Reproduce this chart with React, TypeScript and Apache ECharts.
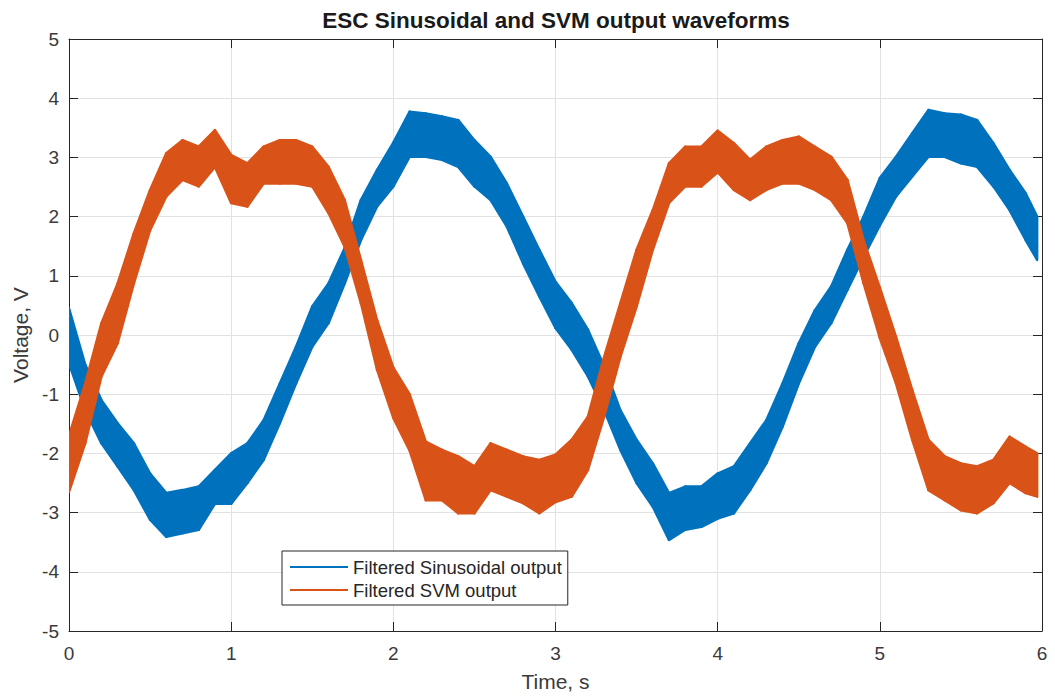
import React, { useEffect, useRef } from "react";
import * as echarts from "echarts";

const timeS = [0, 0.1, 0.2, 0.3, 0.4, 0.5, 0.6, 0.7, 0.8, 0.9, 1.0, 1.1, 1.2, 1.3, 1.4, 1.5, 1.6, 1.7, 1.8, 1.9, 2.0, 2.1, 2.2, 2.3, 2.4, 2.5, 2.6, 2.7, 2.8, 2.9, 3.0, 3.1, 3.2, 3.3, 3.4, 3.5, 3.6, 3.7, 3.8, 3.9, 4.0, 4.1, 4.2, 4.3, 4.4, 4.5, 4.6, 4.7, 4.8, 4.9, 5.0, 5.1, 5.2, 5.3, 5.4, 5.5, 5.6, 5.7, 5.8, 5.9, 5.97];

// Filtered Sinusoidal output: upper / lower envelope of the ripple band (V)
const sinUpper = [0.45, -0.5, -1.1, -1.49, -1.83, -2.34, -2.67, -2.62, -2.56, -2.28, -2.0, -1.83, -1.44, -0.82, -0.2, 0.48, 0.87, 1.47, 2.28, 2.79, 3.25, 3.77, 3.74, 3.69, 3.63, 3.29, 3.01, 2.56, 2.0, 1.44, 0.9, 0.54, 0.09, -0.53, -1.27, -1.77, -2.17, -2.67, -2.56, -2.56, -2.34, -2.22, -1.83, -1.44, -0.82, -0.14, 0.42, 0.82, 1.44, 2.0, 2.65, 3.01, 3.41, 3.8, 3.74, 3.72, 3.63, 3.24, 2.79, 2.39, 2.0];
const sinLower = [-0.48, -1.27, -1.83, -2.22, -2.62, -3.12, -3.41, -3.35, -3.29, -2.85, -2.85, -2.5, -2.11, -1.49, -0.82, -0.2, 0.2, 0.87, 1.6, 2.17, 2.51, 3.01, 3.01, 2.96, 2.84, 2.51, 2.28, 1.83, 1.21, 0.65, 0.12, -0.25, -0.7, -1.27, -1.94, -2.5, -2.9, -3.46, -3.29, -3.24, -3.1, -3.01, -2.62, -2.17, -1.55, -0.82, -0.2, 0.2, 0.76, 1.32, 1.85, 2.34, 2.68, 3.01, 3.01, 2.9, 2.84, 2.51, 2.11, 1.6, 1.27];

// Filtered SVM output: upper / lower envelope of the ripple band (V)
const svmUpper = [-1.7, -0.82, 0.2, 0.87, 1.72, 2.45, 3.07, 3.29, 3.18, 3.46, 3.04, 2.9, 3.18, 3.29, 3.29, 3.18, 2.84, 2.28, 1.27, 0.25, -0.55, -1.0, -1.8, -1.94, -2.05, -2.22, -1.83, -1.94, -2.05, -2.11, -2.02, -1.77, -1.38, -0.37, 0.54, 1.44, 2.11, 2.9, 3.18, 3.18, 3.45, 3.24, 2.96, 3.18, 3.29, 3.35, 3.18, 3.01, 2.62, 1.6, 0.8, -0.03, -0.93, -1.77, -2.05, -2.17, -2.22, -2.11, -1.72, -1.89, -2.0];
const svmLower = [-2.65, -1.83, -0.7, -0.14, 0.87, 1.77, 2.34, 2.62, 2.51, 2.84, 2.23, 2.17, 2.56, 2.56, 2.56, 2.51, 2.06, 1.49, 0.54, -0.59, -1.4, -1.95, -2.79, -2.79, -3.01, -3.01, -2.62, -2.73, -2.84, -3.01, -2.82, -2.73, -2.28, -1.38, -0.37, 0.48, 1.44, 2.23, 2.51, 2.51, 2.75, 2.45, 2.28, 2.45, 2.56, 2.56, 2.45, 2.28, 1.89, 0.87, -0.05, -0.82, -1.77, -2.62, -2.79, -2.96, -3.01, -2.84, -2.5, -2.67, -2.73];

const xTicks = { min: 0, max: 6, interval: 1 };
const yTicks = { min: -5, max: 5, interval: 1 };

const BLUE = "#0072BD";
const ORANGE = "#D95319";
const INK = "#262626";
const LABEL = "#3a3a3a";
const GRID = "#e2e2e2";
const FONT = "'Liberation Sans', Arial, Helvetica, sans-serif";

function bandSeries(name: string, upper: number[], lower: number[], color: string) {
  const data = timeS.map((t, i) => [t, lower[i], upper[i]]);
  return {
    name,
    type: "custom",
    clip: true,
    silent: true,
    itemStyle: { color },
    encode: { x: 0, y: [1, 2] },
    data,
    renderItem: (params: any, api: any) => {
      const i = params.dataIndex;
      if (i >= data.length - 1) return null;
      const a = data[i];
      const b = data[i + 1];
      const p1 = api.coord([a[0], a[1]]);
      const p2 = api.coord([b[0], b[1]]);
      const p3 = api.coord([b[0], b[2]]);
      const p4 = api.coord([a[0], a[2]]);
      return {
        type: "polygon",
        shape: { points: [p1, p2, p3, p4] },
        style: { fill: color, stroke: color, lineWidth: 2.5, lineJoin: "round" },
      };
    },
  };
}

export default function App() {
  const ref = useRef<HTMLDivElement>(null);
  useEffect(() => {
    if (!ref.current) return;
    const chart = echarts.init(ref.current, undefined, { renderer: "svg" });
    const axisLine = { show: true, onZero: false, lineStyle: { color: INK, width: 1 } };
    const axisTick = { show: true, inside: true, length: 9, lineStyle: { color: INK, width: 1 } };
    const option: any = {
      animation: false,
      backgroundColor: "#ffffff",
      textStyle: { fontFamily: FONT },
      grid: { left: 69, top: 39, right: 13, bottom: 66 },
      graphic: [
        {
          type: "text",
          x: 556,
          y: 9,
          style: {
            text: "ESC Sinusoidal and SVM output waveforms",
            fontFamily: FONT,
            fontSize: 22.5,
            fontWeight: "bold",
            fill: "#1a1a1a",
            textAlign: "center",
            textVerticalAlign: "top",
          },
        },
      ],
      legend: {
        data: ["Filtered Sinusoidal output", "Filtered SVM output"],
        orient: "vertical",
        left: 282,
        top: 551,
        icon: "rect",
        itemWidth: 58,
        itemHeight: 2,
        itemGap: 3,
        padding: [6, 6, 5, 8],
        borderColor: INK,
        borderWidth: 1,
        backgroundColor: "#ffffff",
        textStyle: { fontFamily: FONT, fontSize: 18.5, color: INK, lineHeight: 20, padding: [0, 0, 0, 0] },
        selectedMode: false,
      },
      xAxis: [
        {
          type: "value",
          ...xTicks,
          position: "bottom",
          axisLine,
          axisTick,
          axisLabel: { fontSize: 19, color: LABEL, margin: 13, fontFamily: FONT, showMinLabel: true, showMaxLabel: true },
          splitLine: { show: true, lineStyle: { color: GRID, width: 1 } },
          name: "Time, s",
          nameLocation: "middle",
          nameGap: 40,
          nameTextStyle: { fontSize: 21, color: LABEL, fontFamily: FONT },
        },
        {
          type: "value",
          ...xTicks,
          position: "top",
          axisLine,
          axisTick,
          axisLabel: { show: false },
          splitLine: { show: false },
        },
      ],
      yAxis: [
        {
          type: "value",
          ...yTicks,
          position: "left",
          axisLine,
          axisTick,
          axisLabel: { fontSize: 19, color: LABEL, margin: 10, fontFamily: FONT, showMinLabel: true, showMaxLabel: true },
          splitLine: { show: true, lineStyle: { color: GRID, width: 1 } },
          name: "Voltage, V",
          nameLocation: "middle",
          nameGap: 36,
          nameRotate: 90,
          nameTextStyle: { fontSize: 21, color: LABEL, fontFamily: FONT },
        },
        {
          type: "value",
          ...yTicks,
          position: "right",
          axisLine,
          axisTick,
          axisLabel: { show: false },
          splitLine: { show: false },
        },
      ],
      series: [
        bandSeries("Filtered Sinusoidal output", sinUpper, sinLower, BLUE),
        bandSeries("Filtered SVM output", svmUpper, svmLower, ORANGE),
      ],
    };
    chart.setOption(option);
    return () => chart.dispose();
  }, []);
  return (
    <div
      ref={ref}
      style={{ position: "fixed", left: 0, top: 0, width: 1055, height: 697, background: "#fff" }}
    />
  );
}
